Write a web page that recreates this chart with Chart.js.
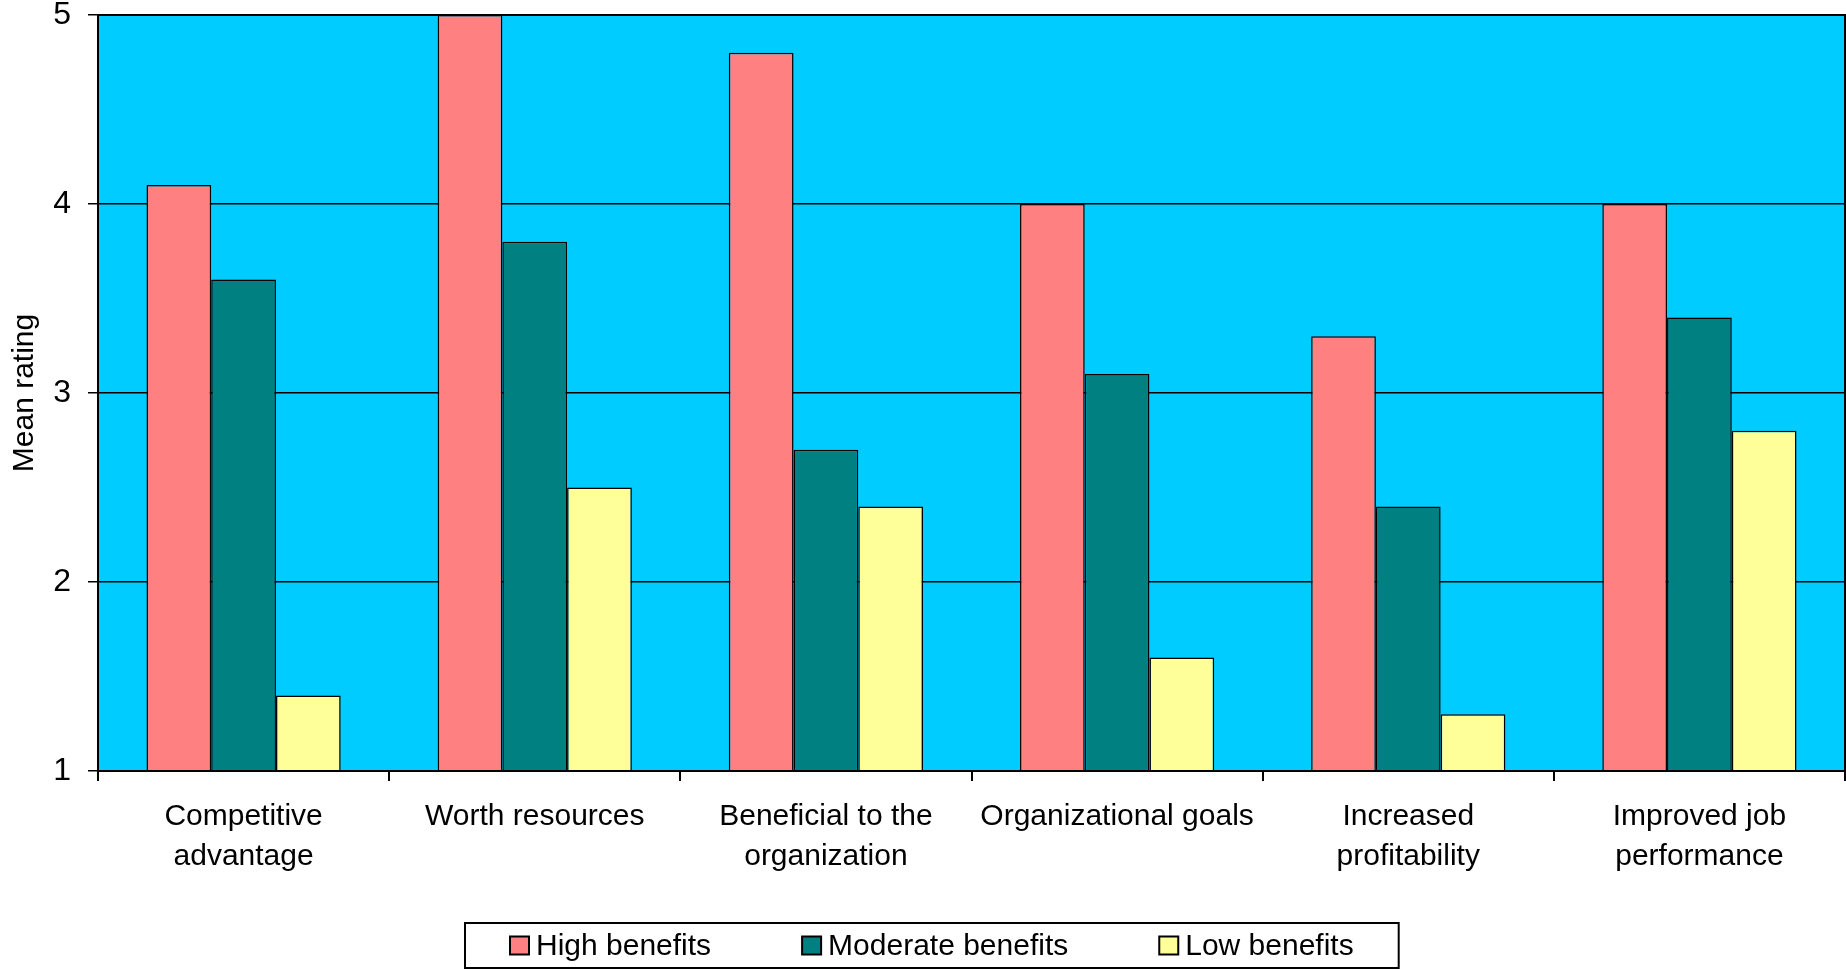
<!DOCTYPE html>
<html>
<head>
<meta charset="utf-8">
<title>Mean rating by benefit level</title>
<script src="https://cdn.jsdelivr.net/npm/chart.js@4"></script>
<style>
  html, body { margin: 0; padding: 0; background: #ffffff; }
  canvas { display: block; }
</style>
</head>
<body>
<canvas id="ratingChart" width="1846" height="969"></canvas>
<script>
// data block
const categories = [
    ['Competitive', 'advantage'],
    'Worth resources',
    ['Beneficial to the', 'organization'],
    'Organizational goals',
    ['Increased', 'profitability'],
    ['Improved job', 'performance']
];
const highBenefits = [4.1, 5.0, 4.8, 4.0, 3.3, 4.0];
const moderateBenefits = [3.6, 3.8, 2.7, 3.1, 2.4, 3.4];
const lowBenefits = [1.4, 2.5, 2.4, 1.6, 1.3, 2.8];
const yMin = 1, yMax = 5, yStep = 1;

Chart.defaults.font.family = '"Liberation Sans", Arial, sans-serif';
Chart.defaults.color = '#000000';

const data = {
    labels: categories,
    datasets: [{
        label: 'High benefits',
        data: highBenefits,
        backgroundColor: '#ff8080',
    }, {
        label: 'Moderate benefits',
        data: moderateBenefits,
        backgroundColor: '#008080',
    }, {
        label: 'Low benefits',
        data: lowBenefits,
        backgroundColor: '#ffff99',
    }]
};

// cyan plot background + frame round the plot area
const plotFrame = {
    id: 'plotFrame',
    beforeDraw: chart => {
        const { ctx, chartArea: a } = chart;
        ctx.save();
        ctx.fillStyle = '#00ccff';
        ctx.fillRect(a.left, a.top, a.right - a.left, a.bottom - a.top);
        ctx.restore();
    },
    afterDatasetsDraw: chart => {
        const { ctx, chartArea: a } = chart;
        ctx.save();
        ctx.strokeStyle = '#000';
        ctx.lineWidth = 2;
        ctx.strokeRect(a.left, a.top, a.right - a.left, a.bottom - a.top);
        ctx.restore();
    }
};

// boxed legend under the axis labels
const boxedLegend = {
    id: 'boxedLegend',
    afterDraw: chart => {
        const ctx = chart.ctx;
        const sets = chart.data.datasets;
        const sw = 19, sh = 18, gap = 7, itemGap = 91, padX = 45;
        ctx.save();
        ctx.font = '30px "Liberation Sans", Arial, sans-serif';
        const widths = sets.map(d => ctx.measureText(d.label).width);
        let total = widths.reduce((s, w) => s + sw + gap + w, 0) + itemGap * (sets.length - 1);
        const boxW = total + padX * 2;
        const boxLeft = Math.round(chart.width / 2 + 9 - boxW / 2);
        const boxTop = 923, boxH = 45;
        ctx.strokeStyle = '#000';
        ctx.lineWidth = 2;
        ctx.strokeRect(boxLeft, boxTop, boxW, boxH);
        const cy = boxTop + boxH / 2;
        let x = boxLeft + padX;
        ctx.textBaseline = 'middle';
        ctx.textAlign = 'left';
        sets.forEach((d, i) => {
            ctx.fillStyle = d.backgroundColor;
            ctx.fillRect(x, cy - sh / 2, sw, sh);
            ctx.lineWidth = 2;
            ctx.strokeRect(x, cy - sh / 2, sw, sh);
            ctx.fillStyle = '#000';
            ctx.fillText(d.label, x + sw + gap, cy + 1);
            x += sw + gap + widths[i] + itemGap;
        });
        ctx.restore();
    }
};

// config block
const config = {
    type: 'bar',
    data,
    options: {
        responsive: false,
        animation: false,
        layout: {
            padding: { top: 15, right: 1, bottom: 58, left: 0 }
        },
        datasets: {
            bar: {
                categoryPercentage: 0.667,
                barPercentage: 1.0,
                borderColor: '#000',
                borderWidth: 1.5,
            }
        },
        plugins: {
            legend: { display: false },
            tooltip: { enabled: false }
        },
        scales: {
            x: {
                grid: {
                    display: true,
                    offset: true,
                    drawOnChartArea: false,
                    drawTicks: true,
                    tickLength: 10,
                    color: '#000',
                    lineWidth: 2,
                },
                border: { color: '#000', width: 2 },
                ticks: {
                    padding: 16,
                    maxRotation: 0,
                    autoSkip: false,
                    font: { size: 30, lineHeight: 1.33 },
                    color: '#000',
                },
                afterFit: axis => {
                    axis.height = 140;
                    axis.paddingLeft = 0;
                    axis.paddingRight = 0;
                }
            },
            y: {
                min: yMin,
                max: yMax,
                grid: {
                    color: '#000',
                    lineWidth: 1.5,
                    tickLength: 10,
                },
                border: { color: '#000', width: 2 },
                ticks: {
                    stepSize: yStep,
                    padding: 17,
                    font: { size: 32, lineHeight: 1 },
                    color: '#000',
                },
                title: {
                    display: true,
                    text: 'Mean rating',
                    font: { size: 30, lineHeight: 1.2 },
                    color: '#000',
                    padding: { top: 7, bottom: 0 }
                },
                afterFit: axis => {
                    axis.width = 98;
                    axis.paddingTop = 0;
                    axis.paddingBottom = 0;
                }
            }
        }
    },
    plugins: [plotFrame, boxedLegend]
};

// render init block
const ratingChart = new Chart(
    document.getElementById('ratingChart'),
    config
);
</script>
</body>
</html>
